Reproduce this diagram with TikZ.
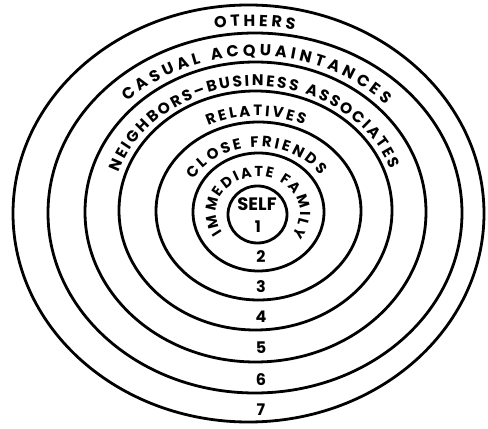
\documentclass[tikz,border=0pt]{standalone}
\usepackage{fontspec}
\setmainfont{Poppins}
\usetikzlibrary{decorations.text}
\begin{document}
\begin{tikzpicture}[x=1pt,y=1pt,
  ring/.style={line width=2.8pt},
  num/.style={font=\bfseries\fontsize{16}{16}\selectfont, inner sep=0pt},
  arctext/.style={decorate,decoration={text along path,text={#1},text align=fit to path}}
]
\useasboundingbox (0,0) rectangle (488,429);
% rings
\draw[ring] (257.5,214.5) ellipse [x radius=29.5pt,y radius=28.5pt];
\draw[ring] (258.5,217) ellipse [x radius=65.5pt,y radius=59pt];
\draw[ring] (258.5,218) ellipse [x radius=102.5pt,y radius=89pt];
\draw[ring] (255.5,218.5) ellipse [x radius=136.5pt,y radius=119.5pt];
\draw[ring] (255.5,217) ellipse [x radius=170.5pt,y radius=150pt];
\draw[ring] (255,216) ellipse [x radius=207pt,y radius=180pt];
\draw[ring] (248.5,215.5) ellipse [x radius=235.5pt,y radius=208.5pt];
% curved labels
\path[arctext={|\bfseries\fontsize{16}{16}\selectfont|OTHERS}]
  (252,216) ++(100:214pt and 187pt) arc[start angle=100,end angle=78.5,x radius=214pt,y radius=187pt];
\path[arctext={|\bfseries\fontsize{16}{16}\selectfont|CASUAL ACQUAINTANCES}]
  (255,216.5) ++(135:180.5pt and 156.5pt) arc[start angle=135,end angle=43.5,x radius=180.5pt,y radius=156.5pt];
\path[arctext={|\bfseries\fontsize{15.5}{15.5}\selectfont|NEIGHBORS–BUSINESS ASSOCIATES}]
  (255.5,218) ++(162:143.5pt and 125pt) arc[start angle=162,end angle=19.5,x radius=143.5pt,y radius=125pt];
\path[arctext={|\bfseries\fontsize{15}{15}\selectfont|RELATIVES}]
  (257,218.5) ++(116.5:109.5pt and 94.5pt) arc[start angle=116.5,end angle=64.5,x radius=109.5pt,y radius=94.5pt];
\path[arctext={|\bfseries\fontsize{15}{15}\selectfont|CLOSE FRIENDS}]
  (258.5,217.5) ++(150:74.5pt and 64.5pt) arc[start angle=150,end angle=34,x radius=74.5pt,y radius=64.5pt];
\path[arctext={|\bfseries\fontsize{14.5}{14.5}\selectfont|IMMEDIATE FAMILY}]
  (258,216) ++(212:42pt and 36.5pt) arc[start angle=212,end angle=-36,x radius=42pt,y radius=36.5pt];
% centre and numbers
\node[font=\bfseries\fontsize{18}{18}\selectfont, inner sep=0pt] (self) at (257,225) {SELF};
\node[num] (n1) at (258,202) {1};
\node[num] (n2) at (261,172) {2};
\node[num] (n3) at (261,142) {3};
\node[num] (n4) at (261,112) {4};
\node[num] (n5) at (261,81) {5};
\node[num] (n6) at (261,49) {6};
\node[num] (n7) at (261,19) {7};
\end{tikzpicture}
\end{document}
